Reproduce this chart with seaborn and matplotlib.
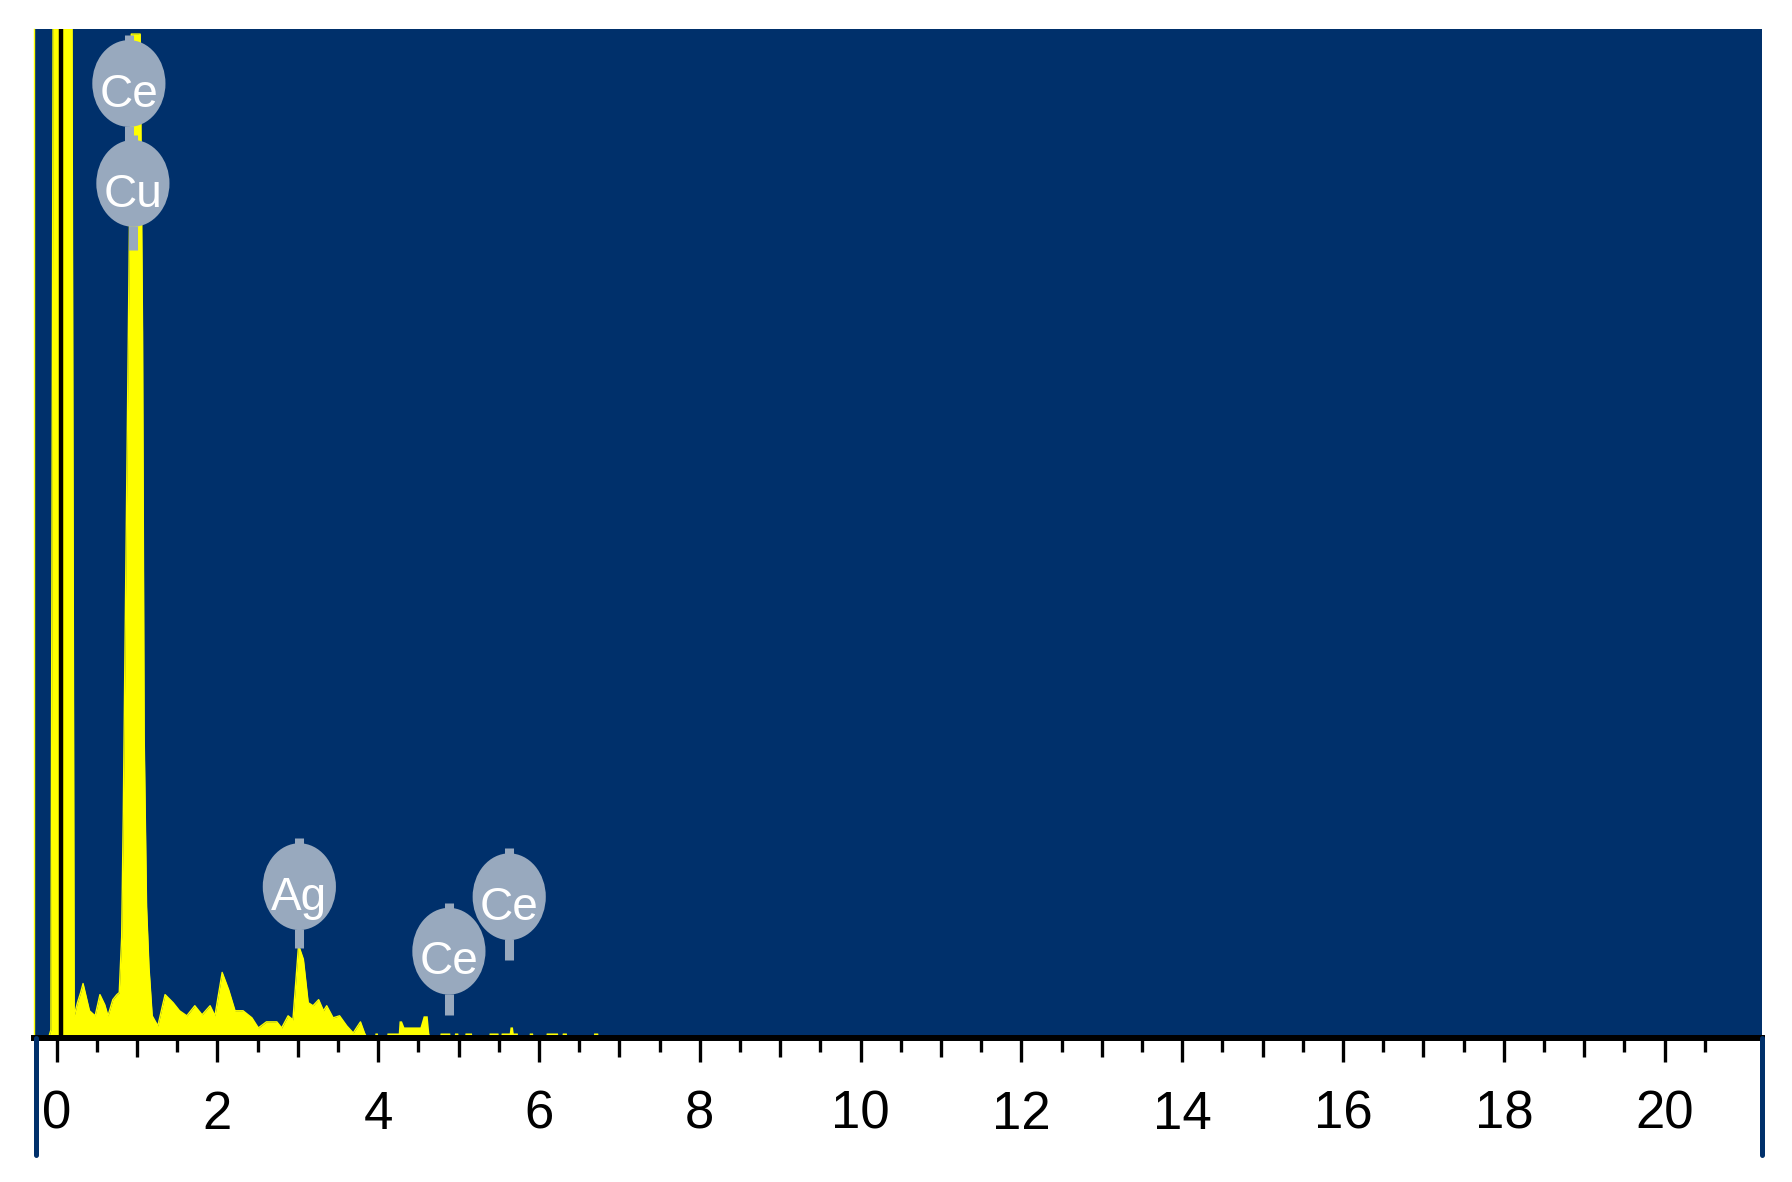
import matplotlib
matplotlib.use("Agg")
import matplotlib.pyplot as plt
import seaborn as sns
from matplotlib.patches import Ellipse
from matplotlib.lines import Line2D

# EDS spectrum (energy in keV, counts on a 0-1000 scale)
energy = [-0.30, -0.10, -0.07, -0.04, 0.19, 0.22, 0.26, 0.30, 0.33, 0.41, 0.48, 0.54, 0.60, 0.64, 0.70, 0.75,
          0.78, 0.81, 0.83, 0.86, 0.90, 0.93, 1.04, 1.07, 1.09, 1.12, 1.15, 1.19, 1.26, 1.35, 1.45, 1.53,
          1.62, 1.72, 1.81, 1.91, 1.97, 2.06, 2.14, 2.22, 2.32, 2.43, 2.51, 2.61, 2.74, 2.80, 2.88, 2.94,
          3.01, 3.07, 3.13, 3.19, 3.26, 3.32, 3.36, 3.44, 3.52, 3.61, 3.69, 3.73, 3.78, 3.83, 3.86]
counts = [0, 0, 8, 1100, 1100, 22, 35, 45, 54, 27, 22, 43, 33, 22, 38, 43,
          45, 100, 220, 450, 750, 995, 995, 700, 300, 130, 70, 22, 12, 43, 35, 27,
          22, 32, 23, 32, 22, 65, 48, 27, 27, 20, 10, 16, 16, 10, 22, 18,
          92, 78, 35, 32, 38, 27, 32, 20, 22, 12, 5, 10, 16, 5, 0]

# sparse tail above 3.9 keV
tail_energy = [3.95, 3.96, 3.99, 4.00, 4.10, 4.11, 4.25, 4.26, 4.29, 4.32, 4.52, 4.56, 4.61, 4.63, 4.65,
               4.76, 4.77, 4.89, 4.90, 4.94, 4.95, 4.99, 5.00, 5.07, 5.08, 5.16, 5.17,
               5.37, 5.38, 5.49, 5.50, 5.52, 5.53, 5.63, 5.64, 5.67, 5.68, 5.73, 5.74,
               5.87, 5.88, 5.92, 5.93, 6.08, 6.09, 6.23, 6.24, 6.28, 6.29, 6.34, 6.35,
               6.67, 6.68, 6.73, 6.74, 21.3]
tail_counts = [0, 5, 5, 0, 0, 5, 5, 17, 17, 11, 11, 22, 22, 5, 0,
               0, 5, 5, 0, 0, 5, 5, 0, 0, 5, 5, 0,
               0, 5, 5, 0, 0, 5, 5, 11, 11, 5, 5, 0,
               0, 5, 5, 0, 0, 5, 5, 0, 0, 5, 5, 0,
               0, 5, 5, 0, 0]

# element markers
labels = ['Ce', 'Cu', 'Ag', 'Ce', 'Ce']
label_x = [0.90, 0.95, 3.02, 4.88, 5.63]
label_y = [946, 847, 150, 86, 140]
stem_len = [16, 24, 19, 21, 21]

x_ticks = list(range(0, 21, 2))

blue = '#00306b'
yellow = '#ffff00'
bubble = '#98a9be'

sns.set_theme(style='white')
plt.rcParams['font.family'] = ['Liberation Sans Narrow', 'Liberation Sans', 'DejaVu Sans']

fig = plt.figure(figsize=(17.92, 11.82), dpi=100)
ax = fig.add_axes([34/1792, 144/1182, 1728/1792, 1009/1182])
ax.set_facecolor(blue)

ax.fill_between(energy, counts, color=yellow, lw=0)
ax.fill_between(tail_energy, tail_counts, color=yellow, lw=0)
sns.lineplot(x=energy, y=counts, color=yellow, lw=1, sort=False, estimator=None, ax=ax)
ax.axvline(0.055, color='black', lw=3.2)

# bubbles
for lab, x, y, s in zip(labels, label_x, label_y, stem_len):
    ax.add_patch(Ellipse((x, y), 0.91, 86, facecolor=bubble, edgecolor='none', zorder=5))
    ax.plot([x, x], [y - 42, y - 42 - s], color=bubble, lw=6.5, solid_capstyle='butt', zorder=5)
    ax.plot([x, x], [y + 42, y + 48], color=bubble, lw=6.5, solid_capstyle='butt', zorder=5)
    ax.text(x, y - 23, lab, color='white', fontsize=33, ha='center', va='baseline', zorder=6)

ax.set_xlim(-0.28, 21.21)
ax.set_ylim(0, 1000)
ax.set_yticks([])
ax.set_xticks(x_ticks)
ax.set_xticklabels([str(t) for t in x_ticks])
ax.set_xticks([t + 0.5 for t in range(0, 21)], minor=True)
ax.tick_params(axis='x', which='major', direction='out', length=17.3, width=2.4, color='black',
               labelsize=38, labelcolor='black', pad=20, bottom=True)
ax.tick_params(axis='x', which='minor', direction='out', length=10, width=2.4, color='black', bottom=True)

sec = ax.secondary_xaxis('bottom')
sec.set_xticks(list(range(1, 21, 2)))
sec.tick_params(axis='x', direction='out', length=13.7, width=2.4, color='black', labelbottom=False)
sec.spines['bottom'].set_visible(False)

for side in ['top', 'right']:
    ax.spines[side].set_visible(False)
ax.spines['left'].set_color(yellow)
ax.spines['left'].set_linewidth(1)
ax.spines['bottom'].set_color('black')
ax.spines['bottom'].set_linewidth(4.3)

# blue frame below the plot
fig.add_artist(Line2D([35.5/1792, 35.5/1792], [27/1182, 144/1182], color=blue, lw=3.6))
fig.add_artist(Line2D([1762/1792, 1762/1792], [27/1182, 144/1182], color=blue, lw=3.6))

fig.savefig('out.png', dpi=100)
